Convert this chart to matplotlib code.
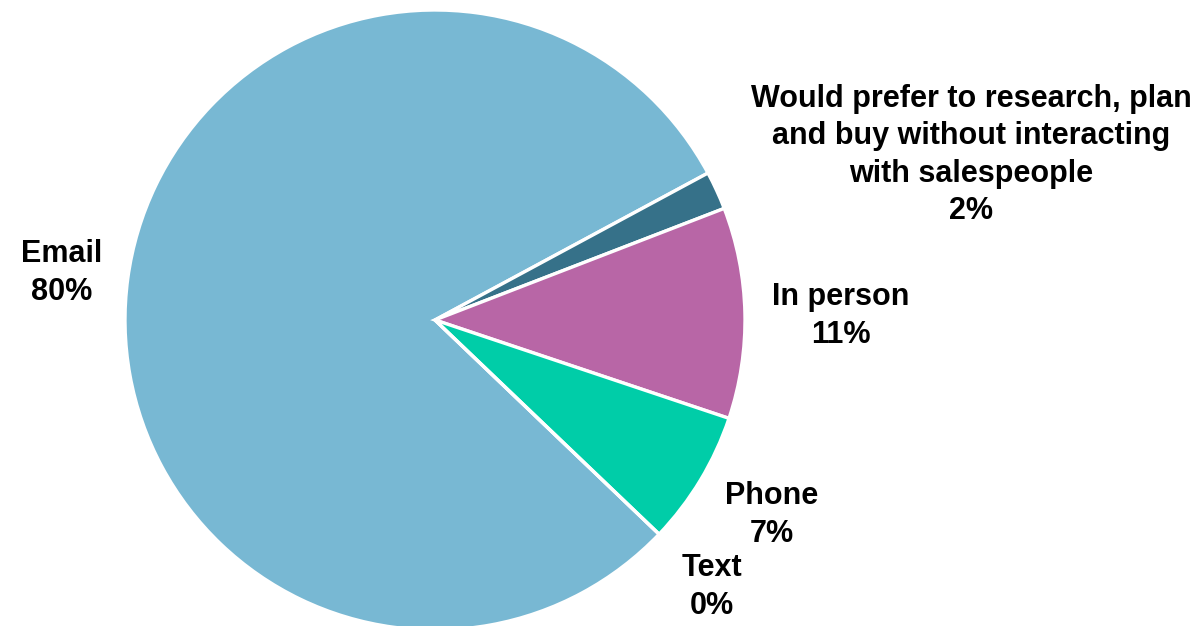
import matplotlib
matplotlib.use("Agg")
import matplotlib.pyplot as plt

categories = ["Email", "Would prefer to research, plan\nand buy without interacting\nwith salespeople", "In person", "Phone", "Text"]
values = [80, 2, 11, 7, 0]
colors = ["#78B8D3", "#367189", "#B866A6", "#00CDA8", "#5B9BD5"]

W, H = 1202, 626
cx, cy, R = 435, 320, 310  # pixel layout of the pie

fig = plt.figure(figsize=(W / 100, H / 100), dpi=100)
ax = fig.add_axes([0, 0, 1, 1])
ax.axis("off")

ax.pie(values, colors=colors, startangle=-43.7, counterclock=False, radius=1.0,
       wedgeprops=dict(edgecolor="white", linewidth=2.4), frame=False)
ax.set_xlim(-cx / R, (W - cx) / R)
ax.set_ylim(-(H - cy) / R, cy / R)
ax.set_aspect("auto")

# label pixel centers
label_pos = [(62, 273), (971, 155), (841, 316), (772, 515), (712, 587)]
for cat, v, (px, py) in zip(categories, values, label_pos):
    x = (px - cx) / R
    y = (cy - py) / R
    ax.text(x, y, f"{cat}\n{v}%", ha="center", va="center", fontsize=22,
            fontweight="bold", family="Liberation Sans", linespacing=1.32,
            color="black")

fig.savefig("out.png", dpi=100)
